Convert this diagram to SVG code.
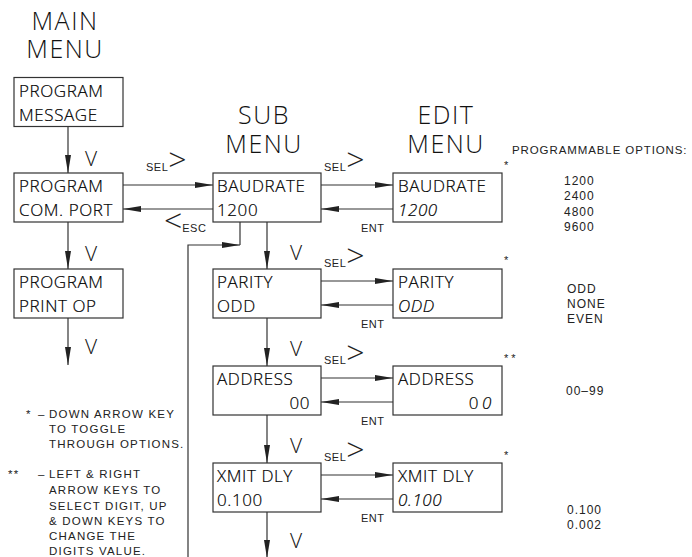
<svg xmlns="http://www.w3.org/2000/svg" width="692" height="557" viewBox="0 0 692 557">
<style>
  .bg{fill:#fff}
  .box{fill:#fff;stroke:#333;stroke-width:1.2}
  .ln{fill:none;stroke:#333;stroke-width:1.2}
  .hd{font-family:"Open Sans","Liberation Sans",Arial,sans-serif;font-weight:300;font-size:25px;letter-spacing:1.5px;fill:#111;text-anchor:middle}
  .bt{font-family:"Open Sans","Liberation Sans",Arial,sans-serif;font-weight:300;font-size:17px;letter-spacing:0.6px;fill:#000;stroke:#000;stroke-width:0.2}
  .it{font-style:italic}
  .sm{font-family:"Liberation Sans",Arial,sans-serif;font-size:11px;letter-spacing:0.5px;fill:#222}
  .ch{font-family:"Open Sans","Liberation Sans",Arial,sans-serif;font-weight:300;font-size:32px;letter-spacing:0}
  .vv{font-family:"Open Sans","Liberation Sans",Arial,sans-serif;font-weight:300;font-size:21px;fill:#111;text-anchor:middle}
  .nt{font-family:"Liberation Sans",Arial,sans-serif;font-size:11.5px;letter-spacing:1.2px;fill:#222}
  .op{font-family:"Liberation Sans",Arial,sans-serif;font-size:12px;letter-spacing:1px;fill:#222}
  .pg{font-family:"Liberation Sans",Arial,sans-serif;font-size:11.5px;letter-spacing:0.9px;fill:#222}
  .st{font-family:"Liberation Sans",Arial,sans-serif;font-size:11px;fill:#222}
</style>
<defs>
  <marker id="ah" markerWidth="18" markerHeight="6" refX="18" refY="3" orient="auto" markerUnits="userSpaceOnUse">
    <path d="M0,0 L18,3 L0,6 Z" fill="#222"/>
  </marker>
</defs>
<rect class="bg" x="0" y="0" width="692" height="557"/>

<!-- headers -->
<g id="headers">
  <text class="hd" x="65" y="30">MAIN</text>
  <text class="hd" x="65" y="58">MENU</text>
  <text class="hd" x="264" y="124">SUB</text>
  <text class="hd" x="264" y="153">MENU</text>
  <text class="hd" x="446" y="124">EDIT</text>
  <text class="hd" x="446" y="153">MENU</text>
</g>

<!-- connectors -->
<g id="connectors">
  <path class="ln" d="M68,126 V173" marker-end="url(#ah)"/>
  <path class="ln" d="M68,222 V269" marker-end="url(#ah)"/>
  <path class="ln" d="M68,318 V365" marker-end="url(#ah)"/>
  <path class="ln" d="M123,185 H213" marker-end="url(#ah)"/>
  <path class="ln" d="M213,209 H123" marker-end="url(#ah)"/>
  <path class="ln" d="M321,185 H393" marker-end="url(#ah)"/>
  <path class="ln" d="M393,209 H321" marker-end="url(#ah)"/>
  <path class="ln" d="M321,281 H393" marker-end="url(#ah)"/>
  <path class="ln" d="M393,305 H321" marker-end="url(#ah)"/>
  <path class="ln" d="M321,378 H393" marker-end="url(#ah)"/>
  <path class="ln" d="M393,402 H321" marker-end="url(#ah)"/>
  <path class="ln" d="M321,475 H393" marker-end="url(#ah)"/>
  <path class="ln" d="M393,499 H321" marker-end="url(#ah)"/>
  <path class="ln" d="M267,222 V269" marker-end="url(#ah)"/>
  <path class="ln" d="M267,318 V366" marker-end="url(#ah)"/>
  <path class="ln" d="M267,415 V463" marker-end="url(#ah)"/>
  <path class="ln" d="M267,512 V558" marker-end="url(#ah)"/>
  <path class="ln" d="M240,222 V245"/>
  <path class="ln" d="M188,557 V245 H240" marker-end="url(#ah)"/>
</g>

<!-- connector labels -->
<g id="labels">
  <text class="vv" x="91" y="166">V</text>
  <text class="vv" x="91" y="261">V</text>
  <text class="vv" x="91" y="354">V</text>
  <text class="vv" x="296" y="260">V</text>
  <text class="vv" x="296" y="356">V</text>
  <text class="vv" x="296" y="453">V</text>
  <text class="vv" x="296" y="548">V</text>
  <text class="sm" x="146" y="171">SEL<tspan class="ch">&gt;</tspan></text>
  <text class="sm" x="324" y="171">SEL<tspan class="ch">&gt;</tspan></text>
  <text class="sm" x="324" y="267">SEL<tspan class="ch">&gt;</tspan></text>
  <text class="sm" x="324" y="364">SEL<tspan class="ch">&gt;</tspan></text>
  <text class="sm" x="324" y="461">SEL<tspan class="ch">&gt;</tspan></text>
  <text class="sm" x="164" y="232"><tspan class="ch">&lt;</tspan>ESC</text>
  <text class="sm" x="361" y="232">ENT</text>
  <text class="sm" x="361" y="328">ENT</text>
  <text class="sm" x="361" y="425">ENT</text>
  <text class="sm" x="361" y="522">ENT</text>
</g>

<!-- main menu nodes -->
<g id="main-program-message">
  <rect class="box" x="14" y="77.5" width="109" height="49"/>
  <text class="bt" x="19" y="97">PROGRAM</text>
  <text class="bt" x="19" y="121">MESSAGE</text>
</g>
<g id="main-program-com-port">
  <rect class="box" x="14" y="173" width="109" height="49"/>
  <text class="bt" x="19" y="192">PROGRAM</text>
  <text class="bt" x="19" y="216">COM. PORT</text>
</g>
<g id="main-program-print-op">
  <rect class="box" x="14" y="269" width="109" height="49"/>
  <text class="bt" x="19" y="288">PROGRAM</text>
  <text class="bt" x="19" y="312">PRINT OP</text>
</g>

<!-- sub menu nodes -->
<g id="sub-baudrate">
  <rect class="box" x="213" y="173" width="108" height="49"/>
  <text class="bt" x="217" y="192">BAUDRATE</text>
  <text class="bt" x="217" y="216">1200</text>
</g>
<g id="sub-parity">
  <rect class="box" x="213" y="269" width="108" height="49"/>
  <text class="bt" x="217" y="288">PARITY</text>
  <text class="bt" x="217" y="312">ODD</text>
</g>
<g id="sub-address">
  <rect class="box" x="213" y="366" width="108" height="49"/>
  <text class="bt" x="217" y="385">ADDRESS</text>
  <text class="bt" x="310" y="409" text-anchor="end">00</text>
</g>
<g id="sub-xmit-dly">
  <rect class="box" x="213" y="463" width="108" height="49"/>
  <text class="bt" x="217" y="482">XMIT DLY</text>
  <text class="bt" x="217" y="506">0.100</text>
</g>

<!-- edit menu nodes -->
<g id="edit-baudrate">
  <rect class="box" x="393" y="173" width="109" height="49"/>
  <text class="bt" x="398" y="192">BAUDRATE</text>
  <text class="bt it" x="398" y="216">1200</text>
</g>
<g id="edit-parity">
  <rect class="box" x="393" y="269" width="109" height="49"/>
  <text class="bt" x="398" y="288">PARITY</text>
  <text class="bt it" x="398" y="312">ODD</text>
</g>
<g id="edit-address">
  <rect class="box" x="393" y="366" width="109" height="49"/>
  <text class="bt" x="398" y="385">ADDRESS</text>
  <text class="bt" x="492" y="409" text-anchor="end">0<tspan dx="3" class="it">0</tspan></text>
</g>
<g id="edit-xmit-dly">
  <rect class="box" x="393" y="463" width="109" height="49"/>
  <text class="bt" x="398" y="482">XMIT DLY</text>
  <text class="bt it" x="398" y="506">0.100</text>
</g>

<!-- programmable options -->
<g id="options">
  <text class="pg" x="512" y="154">PROGRAMMABLE OPTIONS:</text>
  <text class="st" x="504" y="169">*</text>
  <text class="op" x="564" y="185">1200</text>
  <text class="op" x="564" y="200">2400</text>
  <text class="op" x="564" y="216">4800</text>
  <text class="op" x="564" y="231">9600</text>
  <text class="st" x="504" y="264">*</text>
  <text class="op" x="567" y="293">ODD</text>
  <text class="op" x="567" y="308">NONE</text>
  <text class="op" x="567" y="323">EVEN</text>
  <text class="st" x="504" y="362">* *</text>
  <text class="op" x="566" y="395">00–99</text>
  <text class="st" x="504" y="459">*</text>
  <text class="op" x="567" y="514">0.100</text>
  <text class="op" x="567" y="529">0.002</text>
</g>

<!-- notes -->
<g id="notes">
  <text class="nt" x="26" y="418">*</text>
  <text class="nt" x="38" y="418">–</text>
  <text class="nt" x="49" y="418">DOWN ARROW KEY</text>
  <text class="nt" x="49" y="433">TO TOGGLE</text>
  <text class="nt" x="49" y="448">THROUGH OPTIONS.</text>
  <text class="nt" x="8" y="478">**</text>
  <text class="nt" x="38" y="478">–</text>
  <text class="nt" x="49" y="478">LEFT &amp; RIGHT</text>
  <text class="nt" x="49" y="494">ARROW KEYS TO</text>
  <text class="nt" x="49" y="510">SELECT DIGIT, UP</text>
  <text class="nt" x="49" y="525">&amp; DOWN KEYS TO</text>
  <text class="nt" x="49" y="540">CHANGE THE</text>
  <text class="nt" x="49" y="555">DIGITS VALUE.</text>
</g>
</svg>
